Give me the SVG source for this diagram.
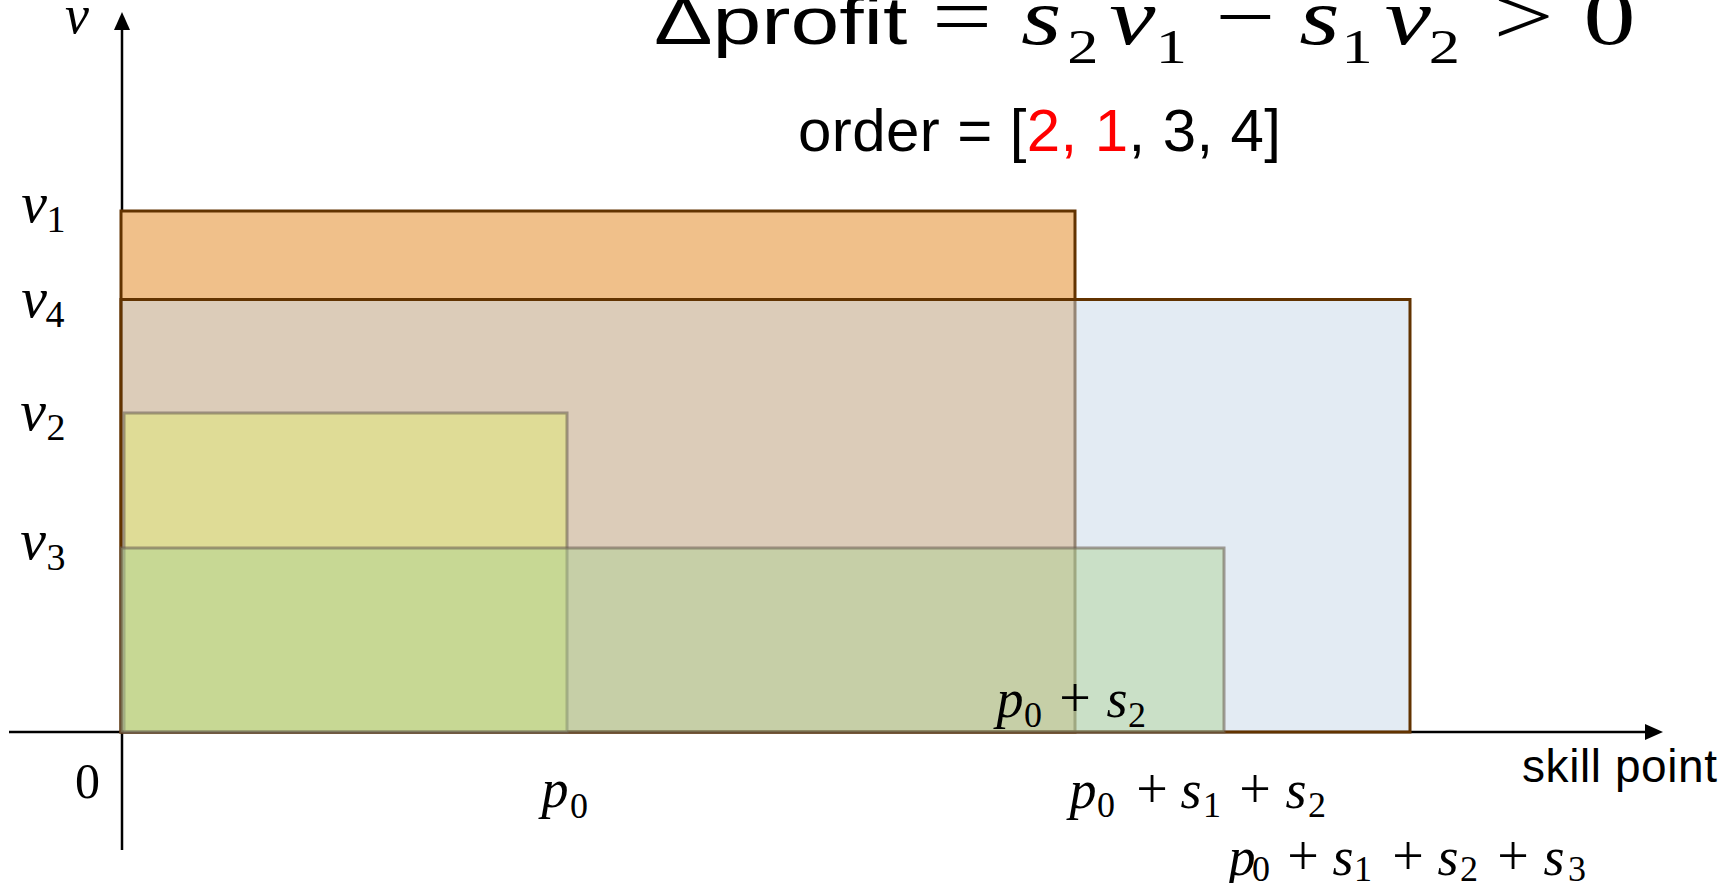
<svg xmlns="http://www.w3.org/2000/svg" width="1730" height="883" viewBox="0 0 1730 883">
<style>
.sans{font-family:"Liberation Sans",Arial,sans-serif;fill:#000}
.mi{font-family:"Liberation Serif","Times New Roman",serif;font-style:italic;fill:#000}
.mu{font-family:"Liberation Serif","Times New Roman",serif;fill:#000}
.axis{stroke:#000;stroke-width:2.5;fill:none}
.c{text-anchor:middle}
</style>
<defs>
<marker id="arr" markerWidth="18" markerHeight="16" refX="2" refY="8" orient="auto" markerUnits="userSpaceOnUse">
<path d="M0,0 L18,8 L0,16 Z" fill="#000"/>
</marker>
</defs>
<rect width="1730" height="883" fill="#fff"/>
<g id="connectors">
<line class="axis" x1="122" y1="850" x2="122" y2="28" marker-end="url(#arr)"/>
<line class="axis" x1="9" y1="732" x2="1647" y2="732" marker-end="url(#arr)"/>
</g>
<g id="task1">
<rect x="121" y="211" width="954" height="521" fill="#F0C08A" stroke="#623300" stroke-width="3"/>
</g>
<g id="task4">
<rect x="121" y="299.5" width="1289" height="432.5" fill="#C7D7E7" fill-opacity="0.5" stroke="#623300" stroke-width="3"/>
</g>
<g id="task2">
<rect x="124" y="413" width="443" height="319" fill="#E0E08D" fill-opacity="0.8" stroke="#6E6355" stroke-opacity="0.6" stroke-width="3"/>
</g>
<g id="task3">
<rect x="121" y="548" width="1103" height="184" fill="#ABD293" fill-opacity="0.45" stroke="#6E6355" stroke-opacity="0.6" stroke-width="3"/>
</g>
<g id="title">
<g transform="scale(1.3,1)">
<text class="sans" x="503" y="44" font-size="66" textLength="195" lengthAdjust="spacingAndGlyphs">Δprofit</text>
<text class="mu c" x="740" y="44" font-size="82">=</text>
<text class="mi c" x="801" y="44" font-size="80">s</text>
<text class="mu c" x="833" y="63" font-size="48">2</text>
<text class="mi c" x="871" y="44" font-size="80">v</text>
<text class="mu c" x="901" y="63" font-size="48">1</text>
<text class="mu c" x="958" y="44" font-size="82">−</text>
<text class="mi c" x="1015" y="44" font-size="80">s</text>
<text class="mu c" x="1044" y="63" font-size="48">1</text>
<text class="mi c" x="1083" y="44" font-size="80">v</text>
<text class="mu c" x="1111" y="63" font-size="48">2</text>
<text class="mu c" x="1172" y="44" font-size="82">&gt;</text>
<text class="mu c" x="1238" y="44" font-size="80">0</text>
</g>
</g>
<g id="order">
<text class="sans" x="798" y="151" font-size="60" textLength="483">order = [<tspan fill="#FF0000">2, 1</tspan>, 3, 4]</text>
</g>
<g id="yaxis-labels">
<text class="mi c" x="77" y="33" font-size="54">v</text>
<text class="mi c" x="34" y="222" font-size="58">v</text>
<text class="mu c" x="56" y="232" font-size="38">1</text>
<text class="mi c" x="34" y="317" font-size="58">v</text>
<text class="mu c" x="55" y="327" font-size="38">4</text>
<text class="mi c" x="33" y="430" font-size="58">v</text>
<text class="mu c" x="56" y="440" font-size="38">2</text>
<text class="mi c" x="33" y="559" font-size="58">v</text>
<text class="mu c" x="56" y="570" font-size="38">3</text>
</g>
<g id="xaxis-labels">
<text class="mu c" x="87.5" y="798" font-size="50">0</text>
<text class="mi c" x="555" y="807" font-size="54">p</text>
<text class="mu c" x="579" y="818" font-size="36">0</text>

<text class="mi c" x="1010" y="717" font-size="54">p</text>
<text class="mu c" x="1033" y="727" font-size="36">0</text>
<text class="mu c" x="1075" y="717" font-size="56">+</text>
<text class="mi c" x="1117" y="717" font-size="54">s</text>
<text class="mu c" x="1137" y="727" font-size="36">2</text>

<text class="mi c" x="1083" y="808" font-size="54">p</text>
<text class="mu c" x="1106" y="817" font-size="36">0</text>
<text class="mu c" x="1152" y="808" font-size="56">+</text>
<text class="mi c" x="1191" y="808" font-size="54">s</text>
<text class="mu c" x="1212" y="817" font-size="36">1</text>
<text class="mu c" x="1255" y="808" font-size="56">+</text>
<text class="mi c" x="1296" y="808" font-size="54">s</text>
<text class="mu c" x="1317" y="817" font-size="36">2</text>

<text class="mi c" x="1242" y="875" font-size="54">p</text>
<text class="mu c" x="1261" y="881" font-size="36">0</text>
<text class="mu c" x="1303" y="875" font-size="56">+</text>
<text class="mi c" x="1343" y="875" font-size="54">s</text>
<text class="mu c" x="1363" y="881" font-size="36">1</text>
<text class="mu c" x="1408" y="875" font-size="56">+</text>
<text class="mi c" x="1448" y="875" font-size="54">s</text>
<text class="mu c" x="1469" y="881" font-size="36">2</text>
<text class="mu c" x="1513" y="875" font-size="56">+</text>
<text class="mi c" x="1554" y="875" font-size="54">s</text>
<text class="mu c" x="1577" y="881" font-size="36">3</text>

<text class="sans" x="1522" y="782" font-size="46" textLength="195">skill point</text>
</g>
</svg>
